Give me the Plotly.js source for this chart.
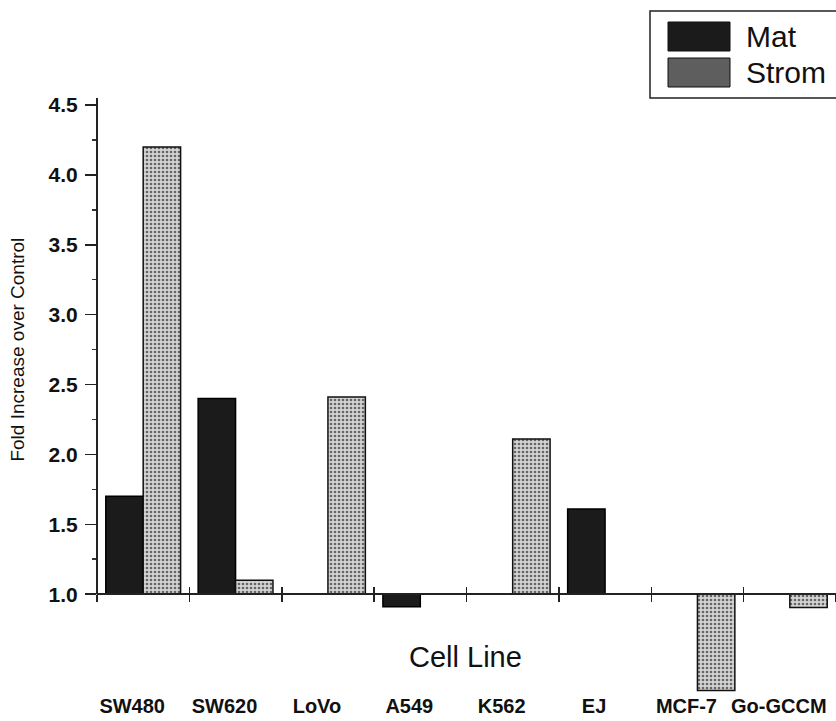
<!DOCTYPE html>
<html>
<head>
<meta charset="utf-8">
<script src="https://cdn.plot.ly/plotly-3.0.1.min.js"></script>
<style>html,body{margin:0;padding:0;background:#fff;}#chart{width:836px;height:721px;}</style>
</head>
<body>
<div id="chart"></div>
<script>
// ---- data ----
const categories = ['SW480', 'SW620', 'LoVo', 'A549', 'K562', 'EJ', 'MCF-7', 'Go-GCCM'];
const matValues = [1.7, 2.4, 1.0, 0.91, 1.0, 1.61, 1.0, 1.0];
const stromValues = [4.2, 1.1, 2.41, 1.0, 2.11, 1.0, 0.31, 0.905];
const seriesNames = ['Mat', 'Strom'];
const yTickVals = [1.0, 1.5, 2.0, 2.5, 3.0, 3.5, 4.0, 4.5];
const yMinorVals = [1.25, 1.75, 2.25, 2.75, 3.25, 3.75, 4.25];
const baseValue = 1.0;

// ---- layout geometry ----
const W = 836, H = 721;
const M = {l: 97, r: 0, t: 98, b: 29};
const yRange = [0.3, 4.55];
const plotW = W - M.l - M.r, plotH = H - M.t - M.b;
const px2paperX = px => (px - M.l) / plotW;
const px2paperY = py => (H - M.b - py) / plotH;
const basePaper = (baseValue - yRange[0]) / (yRange[1] - yRange[0]);

const FONT = 'Liberation Sans, Arial, Helvetica, sans-serif';
const matColor = '#1b1b1b';
const stromBg = '#d4d4d4';
const stromFg = '#666666';

const traces = [
  {
    type: 'bar', name: seriesNames[0], x: categories,
    y: matValues.map(v => v - baseValue), base: baseValue,
    marker: {color: matColor, line: {color: '#000', width: 1.5}},
    showlegend: false, hoverinfo: 'skip'
  },
  {
    type: 'bar', name: seriesNames[1], x: categories,
    y: stromValues.map(v => v - baseValue), base: baseValue,
    marker: {color: stromBg, line: {color: '#111', width: 1.5},
      pattern: {shape: '.', fgcolor: stromFg, bgcolor: stromBg, fillmode: 'replace', size: 4, solidity: 0.35}},
    showlegend: false, hoverinfo: 'skip'
  },
  // carriers for the baseline axes
  {type: 'scatter', mode: 'markers', x: categories, y: categories.map(() => null), xaxis: 'x2', yaxis: 'y', showlegend: false, hoverinfo: 'skip'},
  {type: 'scatter', mode: 'markers', x: categories, y: categories.map(() => null), xaxis: 'x3', yaxis: 'y', showlegend: false, hoverinfo: 'skip'}
];

const baseAxis = {
  type: 'category', categoryorder: 'array', categoryarray: categories,
  overlaying: 'x', matches: 'x', anchor: 'free', position: basePaper,
  showgrid: false, zeroline: false, showticklabels: false,
  tickson: 'boundaries', ticklen: 7, tickwidth: 1.5, tickcolor: '#222'
};

const layout = {
  width: W, height: H,
  margin: M,
  paper_bgcolor: '#fff', plot_bgcolor: '#fff',
  bargap: 0.19, bargroupgap: 0, barmode: 'group',
  showlegend: false,
  font: {family: FONT, color: '#111'},
  xaxis: {
    type: 'category', categoryorder: 'array', categoryarray: categories,
    anchor: 'y', side: 'bottom', showline: false, showgrid: false, zeroline: false,
    ticks: '', showticklabels: true, ticklabelshift: -11,
    tickfont: {family: FONT, size: 20, weight: 'bold', color: '#111'}
  },
  xaxis2: Object.assign({}, baseAxis, {showline: true, linewidth: 2, linecolor: '#222', ticks: 'outside'}),
  xaxis3: Object.assign({}, baseAxis, {showline: false, ticks: 'inside'}),
  yaxis: {
    range: yRange, showline: false, showgrid: false, zeroline: false,
    tickmode: 'array', tickvals: yTickVals, ticktext: yTickVals.map(v => v.toFixed(1)),
    ticks: 'outside', ticklen: 11, tickwidth: 1.5, tickcolor: '#222', ticklabelstandoff: 3,
    tickfont: {family: FONT, size: 21, weight: 'bold', color: '#111'},
    minor: {tickmode: 'array', tickvals: yMinorVals, ticks: 'outside', ticklen: 4, tickwidth: 1.5, tickcolor: '#333', showgrid: false}
  },
  shapes: [
    // y axis line, from the base value up to the top of the axis
    {type: 'line', xref: 'paper', yref: 'y', x0: 0, x1: 0, y0: baseValue, y1: yRange[1], line: {color: '#222', width: 2}},
    // legend box
    {type: 'rect', xref: 'paper', yref: 'paper', x0: px2paperX(650), x1: px2paperX(845), y0: px2paperY(98), y1: px2paperY(11), line: {color: '#222', width: 1.5}, fillcolor: 'rgba(0,0,0,0)'},
    {type: 'rect', xref: 'paper', yref: 'paper', x0: px2paperX(668), x1: px2paperX(730), y0: px2paperY(51), y1: px2paperY(22), line: {color: '#111', width: 1}, fillcolor: matColor},
    {type: 'rect', xref: 'paper', yref: 'paper', x0: px2paperX(668), x1: px2paperX(730), y0: px2paperY(87), y1: px2paperY(58), line: {color: '#111', width: 1}, fillcolor: '#5e5e5e'}
  ],
  annotations: [
    {text: 'Fold Increase over Control', textangle: -90, xref: 'paper', yref: 'y', x: px2paperX(18), y: (yTickVals[0] + yTickVals[yTickVals.length - 1]) / 2, showarrow: false, xanchor: 'center', yanchor: 'middle', font: {family: FONT, size: 19, color: '#111'}},
    {text: 'Cell Line', xref: 'paper', yref: 'paper', x: px2paperX(465), y: px2paperY(657), showarrow: false, xanchor: 'center', yanchor: 'middle', font: {family: FONT, size: 29, color: '#111'}},
    {text: seriesNames[0], xref: 'paper', yref: 'paper', x: px2paperX(744), y: px2paperY(37), showarrow: false, xanchor: 'left', yanchor: 'middle', font: {family: FONT, size: 30, color: '#111'}},
    {text: seriesNames[1], xref: 'paper', yref: 'paper', x: px2paperX(744), y: px2paperY(72), showarrow: false, xanchor: 'left', yanchor: 'middle', font: {family: FONT, size: 30, color: '#111'}}
  ]
};

Plotly.newPlot('chart', traces, layout, {staticPlot: true, displayModeBar: false});
</script>
</body>
</html>
